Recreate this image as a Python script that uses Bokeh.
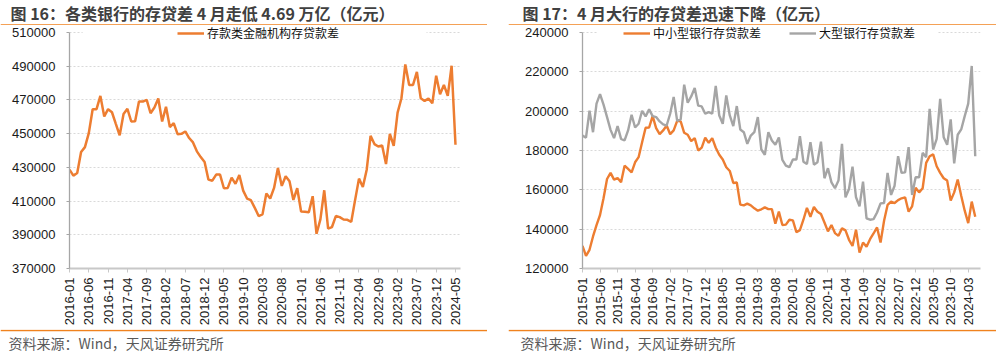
import math
import pandas as pd
from bokeh.plotting import figure
from bokeh.models import (Range1d, FixedTicker, NumeralTickFormatter, Legend, LegendItem,
                          Label, Span, BoxAnnotation, Spacer)
from bokeh.layouts import row, column
from bokeh.embed import file_html
from bokeh.resources import INLINE

# ---------------- data ----------------
left_title = "图 16：各类银行的存贷差 4 月走低 4.69 万亿（亿元）"
right_title = "图 17：4 月大行的存贷差迅速下降（亿元）"
source_text = "资料来源：Wind，天风证券研究所"

left_months = pd.period_range("2016-01", "2024-05", freq="M").strftime("%Y-%m").tolist()
right_months = pd.period_range("2015-01", "2024-05", freq="M").strftime("%Y-%m").tolist()

left_series_name = "存款类金融机构存贷款差"
left_values = [
    428700, 425100, 426700, 439100, 442000, 450300, 464500, 464500, 472400, 460200,
    464500, 462700, 455800, 449000, 461600, 464700, 457200, 457400, 469000, 469000,
    470000, 462100, 465500, 470800, 457200, 465900, 453900, 456200, 449700, 449900,
    451300, 447400, 444800, 439500, 436100, 433200, 422700, 422100, 425700, 425700,
    417600, 417800, 423900, 420200, 425500, 416200, 411500, 410500, 406000, 401100,
    402100, 414500, 411500, 417800, 429600, 419000, 424700, 421700, 410700, 417600,
    403800, 403600, 403400, 412900, 390600, 399100, 416400, 393600, 394600, 401100,
    400500, 399100, 398900, 397700, 410700, 423300, 418400, 428600, 448700, 443800,
    442400, 443000, 432000, 449900, 442800, 462500, 471000, 491100, 478900, 478900,
    486600, 471000, 469400, 470800, 468000, 484400, 473400, 478900, 472400, 490300,
    443400,
]

small_name = "中小型银行存贷款差"
small_values = [
    131500, 126400, 129500, 136300, 142100, 147200, 155700, 165500, 168600, 165200,
    166000, 163800, 172300, 170600, 168900, 174000, 176600, 184200, 191600, 191700,
    197500, 191400, 188300, 190200, 192700, 188300, 190200, 195100, 194800, 189000,
    188000, 184800, 186300, 180000, 181500, 186500, 183900, 186300, 181400, 177800,
    175400, 171500, 169600, 163500, 163700, 152500, 152100, 153000, 152100, 150600,
    149400, 150100, 151100, 150200, 150200, 142800, 148900, 142100, 142300, 144800,
    144500, 138500, 139500, 144800, 150800, 146300, 151300, 148900, 147700, 143400,
    138900, 142100, 138000, 136600, 140400, 139400, 134600, 131500, 139700, 128100,
    133200, 131000, 134900, 137800, 140900, 133200, 144300, 152300, 154000, 153300,
    154800, 155700, 156200, 148900, 151600, 161100, 158700, 160800, 173700, 177100,
    178000, 172000, 168600, 165900, 164700, 154500, 158700, 165200, 157000, 149400,
    143100, 154000, 146300,
]

large_name = "大型银行存贷款差"
large_values = [
    187600, 186500, 200200, 189300, 203800, 208700, 203300, 197000, 190500, 186300,
    192400, 185900, 185100, 190200, 198200, 191700, 193600, 200200, 197300, 200900,
    197500, 197000, 194800, 193300, 192700, 198700, 207200, 195100, 195800, 213500,
    204300, 207500, 211800, 202800, 202400, 198700, 199500, 198700, 212800, 197800,
    193600, 208000, 197800, 192400, 202600, 190700, 189300, 183400, 187600, 189300,
    197000, 180500, 177800, 189300, 185100, 182900, 186600, 175200, 172300, 171500,
    175400, 175400, 187300, 174300, 173100, 184200, 172800, 174000, 184500, 165900,
    171000, 163800, 160800, 164700, 183400, 156200, 160400, 171800, 156200, 151600,
    164200, 145500, 144800, 145100, 148500, 153100, 153300, 168600, 157400, 162100,
    177100, 168600, 168900, 181700, 157400, 166400, 166400, 178800, 176600, 201200,
    180500, 185900, 206300, 186800, 182900, 195800, 173500, 188000, 190700, 197500,
    203800, 223000, 177100,
]

left_yticks = [370000, 390000, 410000, 430000, 450000, 470000, 490000, 510000]
right_yticks = [120000, 140000, 160000, 180000, 200000, 220000, 240000]

# ---------------- style ----------------
ORANGE = "#ED7D31"
GRAY = "#A5A5A5"
RULE = "#F0821E"
CJK = "Noto Sans CJK SC"
LAT = "Liberation Sans"

LEFT_W, GAP, RIGHT_W = 487, 21, 488
HEAD_H, CHART_H, FOOT_H = 25, 304, 23
TOP_B, BOT_B = 0, 61
FRAME_H = CHART_H - TOP_B - BOT_B  # 243 px; tick range occupies the lower 236 px


def header(width, text, tx):
    h = figure(width=width, height=HEAD_H, x_range=Range1d(0, width), y_range=Range1d(0, HEAD_H),
               toolbar_location=None, output_backend="svg", title=None,
               x_axis_location=None, y_axis_location=None, min_border=0, frame_align=False)
    h.grid.visible = False
    h.outline_line_color = None
    h.add_layout(Label(x=tx, y=13, text=text, text_baseline="middle", text_align="left",
                       text_font=CJK, text_font_size="16px", text_font_style="bold",
                       text_color="#404040"))
    h.add_layout(Span(location=0.6, dimension="width", line_color=RULE, line_width=1.5))
    return h


def footer(width, tx):
    f = figure(width=width, height=FOOT_H, x_range=Range1d(0, width), y_range=Range1d(0, FOOT_H),
               toolbar_location=None, output_backend="svg", title=None,
               x_axis_location=None, y_axis_location=None, min_border=0, frame_align=False)
    f.grid.visible = False
    f.outline_line_color = None
    f.add_layout(Span(location=FOOT_H - 1, dimension="width", line_color=RULE, line_width=1.5))
    f.add_layout(Label(x=tx, y=10, text=source_text, text_baseline="middle", text_align="left",
                       text_font=CJK, text_font_size="14px", text_color="#595959"))
    return f


def chart(width, bl, br, months, xend, yticks):
    span = yticks[-1] - yticks[0]
    ytop = yticks[-1] + span * (FRAME_H - 236) / 236.0
    p = figure(width=width, height=CHART_H, toolbar_location=None, output_backend="svg", title=None,
               x_range=Range1d(0, xend), y_range=Range1d(yticks[0], ytop),
               min_border_left=bl, min_border_right=br, min_border_top=TOP_B,
               min_border_bottom=BOT_B, frame_align=False)
    p.outline_line_color = None
    p.background_fill_color = "white"
    p.border_fill_color = "white"
    p.xgrid.grid_line_color = None
    p.ygrid.grid_line_color = "#d9d9d9"
    p.ygrid.grid_line_dash = "2 2"
    p.ygrid.grid_line_width = 1

    xt = list(range(0, len(months), 5))
    p.xaxis.ticker = FixedTicker(ticks=xt)
    p.xaxis.major_label_overrides = {i: months[i] for i in xt}
    p.xaxis.major_label_orientation = math.pi / 2
    p.xaxis.axis_line_color = "#c8c8c8"
    p.xaxis.axis_line_width = 2
    p.xaxis.major_tick_line_color = "#c8c8c8"
    p.xaxis.major_tick_out = 4
    p.xaxis.major_tick_in = 0
    p.xaxis.minor_tick_line_color = None
    p.xaxis.major_label_standoff = 5
    p.xaxis.major_label_text_font = LAT
    p.xaxis.major_label_text_font_size = "13px"
    p.xaxis.major_label_text_color = "#1a1a1a"

    p.yaxis.ticker = FixedTicker(ticks=yticks)
    p.yaxis.bounds = (yticks[0], yticks[-1])
    p.yaxis.formatter = NumeralTickFormatter(format="0")
    p.yaxis.axis_line_color = "#a6a6a6"
    p.yaxis.axis_line_width = 1.3
    p.yaxis.major_tick_line_color = "#a6a6a6"
    p.yaxis.major_tick_out = 3
    p.yaxis.major_tick_in = 0
    p.yaxis.minor_tick_line_color = None
    p.yaxis.major_label_standoff = 11
    p.yaxis.major_label_text_font = LAT
    p.yaxis.major_label_text_font_size = "13px"
    p.yaxis.major_label_text_color = "#1a1a1a"
    return p, ytop


def legend(items, lx, ly):
    return Legend(items=items, location=(lx, ly), orientation="horizontal", padding=0, margin=0,
                  border_line_alpha=0, background_fill_alpha=0, glyph_width=27, glyph_height=14,
                  label_height=14, label_standoff=3, spacing=28, label_text_font=CJK,
                  label_text_font_size="12px", label_text_color="#111111")


LEG_Y = FRAME_H - 2 - 14

# ---------------- left chart ----------------
pl, ltop = chart(LEFT_W, 69, 27, left_months, 101.3, left_yticks)
xl = list(range(len(left_values)))
rl = pl.line(xl, left_values, line_color=ORANGE, line_width=2.5)
pl.add_layout(BoxAnnotation(left=3.4, right=92.5, bottom=506500, top=ltop,
                            fill_color="white", fill_alpha=1, line_alpha=0))
pl.add_layout(legend([LegendItem(label=left_series_name, renderers=[rl])], 108, LEG_Y))

# ---------------- right chart ----------------
pr, rtop = chart(RIGHT_W, 74, 16, right_months, 113.5, right_yticks)
xr = list(range(len(small_values)))
rs = pr.line(xr, small_values, line_color=ORANGE, line_width=2.4)
rg = pr.line(xr, large_values, line_color=GRAY, line_width=2.4)
pr.add_layout(BoxAnnotation(left=4.4, right=101.2, bottom=237500, top=rtop,
                            fill_color="white", fill_alpha=1, line_alpha=0))
pr.add_layout(legend([LegendItem(label=small_name, renderers=[rs]),
                      LegendItem(label=large_name, renderers=[rg])], 41, LEG_Y))

left_col = column(header(LEFT_W, left_title, 10), pl, footer(LEFT_W, 8), spacing=0)
right_col = column(header(RIGHT_W, right_title, 14), pr, footer(RIGHT_W, 12), spacing=0)
layout = row(left_col, Spacer(width=GAP, height=352), right_col, spacing=0)

open("out.html", "w").write(file_html(layout, INLINE))
